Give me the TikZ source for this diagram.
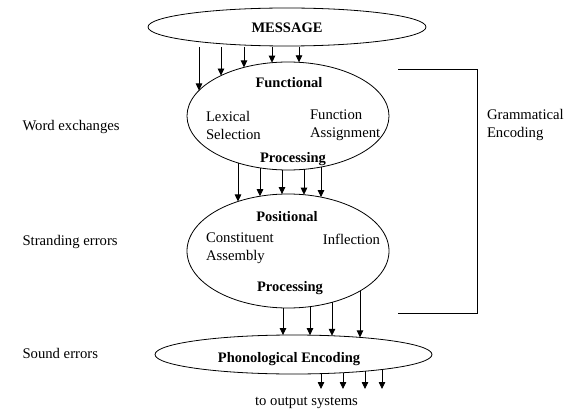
\documentclass[tikz,border=0pt]{standalone}
\usepackage{fontspec}
\setmainfont{Liberation Serif}
\usetikzlibrary{shapes.geometric,arrows.meta,calc}
\begin{document}
\begin{tikzpicture}[x=1pt,y=-1pt,
  every node/.style={inner sep=0pt, outer sep=0pt},
  oval/.style={draw, ellipse, line width=0.8pt, inner sep=0pt},
  txt/.style={font=\fontsize{14.7}{18}\selectfont},
  hd/.style={font=\fontsize{14.5}{18}\selectfont\bfseries},
  arr/.style={line width=0.8pt, -{Triangle[length=7pt,width=6.5pt]}},
  brk/.style={line width=0.8pt},
]
\useasboundingbox (0,0) rectangle (583,414);
% ellipses
\node[oval, minimum width=278pt, minimum height=38pt] (M) at (287,27) {};
\node[oval, minimum width=202pt, minimum height=108pt] (F) at (288,116) {};
\node[oval, minimum width=202pt, minimum height=114pt] (P) at (288,251) {};
\node[oval, minimum width=277pt, minimum height=39pt] (Ph) at (293.5,354.5) {};
% texts
\node[hd] (tM) at (287,28) {MESSAGE};
\node[hd] (tF1) at (289,83) {Functional};
\node[txt, anchor=west, align=left] (tLS) at (206,125.5) {Lexical\\Selection};
\node[txt, anchor=west, align=left] (tFA) at (310,125.5) {Function\\Assignment};
\node[hd] (tF2) at (293,159) {Processing};
\node[hd] (tP1) at (287,217) {Positional};
\node[txt, anchor=west, align=left] (tCA) at (206,248.5) {Constituent\\Assembly};
\node[txt, anchor=east] (tIn) at (380,239) {Inflection};
\node[hd] (tP2) at (290,288) {Processing};
\node[hd] (tPh) at (289,359) {Phonological Encoding};
\node[txt] (tOut) at (306.5,403) {to output systems};
\node[txt, anchor=west, align=left] (tGE) at (487,124.5) {Grammatical\\Encoding};
\node[txt, anchor=west] (tWE) at (22.5,127) {Word exchanges};
\node[txt, anchor=west] (tSE) at (22.5,242) {Stranding errors};
\node[txt, anchor=west] (tSo) at (22.5,353) {Sound errors};
% bracket
\coordinate (b1) at (398,69);
\coordinate (b2) at (398,313);
\draw[brk] (b1) -| (477,313) -- (b2);
% arrows MESSAGE -> Functional
\foreach \x in {199,221,244,272,299} {
  \pgfmathsetmacro\dy{54*sqrt(1-((\x-288)/101)^2)}
  \draw[arr] ($(M.south)+(\x-287,1)$) -- ($(F.center)+(\x-288,-\dy)$);
}
% arrows Functional -> Positional
\foreach \x in {238,260,282,304,321} {
  \pgfmathsetmacro\da{54*sqrt(1-((\x-288)/101)^2)}
  \pgfmathsetmacro\db{57*sqrt(1-((\x-288)/101)^2)}
  \draw[arr] ($(F.center)+(\x-288,\da)$) -- ($(P.center)+(\x-288,-\db)$);
}
% arrows Positional -> Phonological
\foreach \x in {283,310,332,360} {
  \pgfmathsetmacro\da{57*sqrt(1-((\x-288)/101)^2)}
  \pgfmathsetmacro\db{19.5*sqrt(1-((\x-293.5)/138.5)^2)}
  \draw[arr] ($(P.center)+(\x-288,\da)$) -- ($(Ph.center)+(\x-293.5,-\db)$);
}
% arrows to output
\foreach \x in {321,343,365,382} {
  \pgfmathsetmacro\da{19.5*sqrt(1-((\x-293.5)/138.5)^2)}
  \coordinate (o\x) at (\x,389);
  \draw[arr] ($(Ph.center)+(\x-293.5,\da)$) -- (o\x);
}
\end{tikzpicture}
\end{document}
